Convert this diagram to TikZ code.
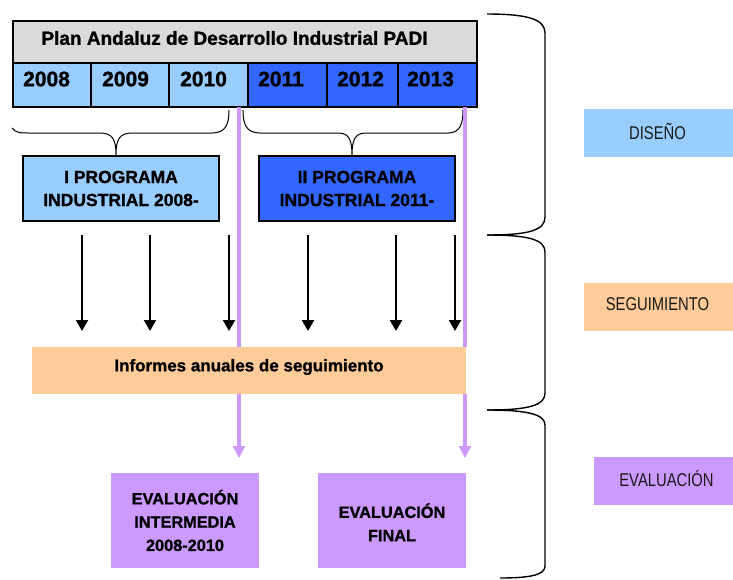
\documentclass[tikz,border=0pt]{standalone}
\usepackage{fontspec}
\setmainfont[BoldFeatures={FakeBold=1.2}]{Liberation Sans}
\newfontfamily\narrowfont[FakeStretch=0.8]{Liberation Sans}
\usetikzlibrary{arrows.meta}
\definecolor{lblue}{HTML}{99CCFF}
\definecolor{dblue}{HTML}{3366FF}
\definecolor{lorange}{HTML}{FFCC99}
\definecolor{lpurple}{HTML}{CC99FF}
\definecolor{lgray}{HTML}{DADADA}
\begin{document}
\begin{tikzpicture}[x=1pt,y=-1pt,
  box/.style={anchor=north west,inner sep=0pt,outer sep=0pt},
  cell/.style={box,draw=black,line width=1.5pt,minimum height=44pt},
  yeartxt/.style={anchor=west,inner sep=0pt,font=\fontsize{21}{24}\selectfont\bfseries},
  progbox/.style={box,draw=black,line width=2pt,minimum width=196pt,minimum height=65pt,align=center,
     font=\fontsize{17.5}{23}\selectfont\bfseries},
  evalbox/.style={box,fill=lpurple,minimum width=148pt,minimum height=95pt,align=center,
     font=\fontsize{16.3}{23.3}\selectfont\bfseries},
  labelbox/.style={box,minimum height=48pt},
  labeltxt/.style={inner sep=0pt,font=\narrowfont\fontsize{18.5}{22}\selectfont,text=black!90},
  blackarrow/.style={line width=2.2pt,-{Triangle[length=11pt,width=12pt]}},
  purpleline/.style={draw=lpurple,line width=4.5pt},
  purplearrow/.style={draw=lpurple,line width=4pt,-{Triangle[length=12pt,width=12pt]}},
  bracket/.style={draw=black,line width=1.4pt},
  smallbrace/.style={draw=black,line width=1pt}]
\useasboundingbox (0,0) rectangle (733,579);

% ---- table ----
\node[box,fill=lgray,minimum width=464pt,minimum height=42pt] (title) at (13,21) {};
\node[inner sep=0pt,font=\fontsize{19}{22}\selectfont\bfseries] (titletext) at (234.5,38) {Plan Andaluz de Desarrollo Industrial PADI};
\node[cell,fill=lblue,minimum width=78pt] (y1) at (13,63) {};
\node[cell,fill=lblue,minimum width=78pt] (y2) at (91,63) {};
\node[cell,fill=lblue,minimum width=79pt] (y3) at (169,63) {};
\node[cell,fill=dblue,minimum width=79pt] (y4) at (248,63) {};
\node[cell,fill=dblue,minimum width=71pt] (y5) at (327,63) {};
\node[cell,fill=dblue,minimum width=79pt] (y6) at (398,63) {};
\node[yeartxt] (t1) at (23,79) {2008};
\node[yeartxt] (t2) at (102,79) {2009};
\node[yeartxt] (t3) at (180,79) {2010};
\node[yeartxt] (t4) at (258,79) {2011};
\node[yeartxt] (t5) at (337,79) {2012};
\node[yeartxt] (t6) at (407,79) {2013};
\draw[line width=2.2pt] (title.north west) rectangle (y6.south east);

% ---- small braces ----
\draw[smallbrace] (12,128) .. controls (16,133) and (20,133) .. (30,133) -- (100,133)
  .. controls (113,133) and (116,140) .. (116,155)
  .. controls (116,140) and (119,133) .. (132,133) -- (212,133)
  .. controls (226,133) and (229,124) .. (229,110);
\draw[smallbrace] (243,110) .. controls (243,124) and (246,133) .. (260,133) -- (338,133)
  .. controls (349,133) and (352,140) .. (352,155)
  .. controls (352,140) and (355,133) .. (366,133) -- (448,133)
  .. controls (460,133) and (463,124) .. (463,110);

% ---- programme boxes ----
\node[progbox,fill=lblue] (p1) at (23,156) {I PROGRAMA\\INDUSTRIAL 2008-};
\node[progbox,fill=dblue] (p2) at (259,156) {II PROGRAMA\\INDUSTRIAL 2011-};

% ---- orange box ----
\node[box,fill=lorange,minimum width=434pt,minimum height=47pt] (inf) at (32,347) {};
\node[inner sep=0pt,font=\fontsize{17}{20}\selectfont\bfseries] (inftext) at (249,367) {Informes anuales de seguimiento};

% ---- purple lines ----
\coordinate (pa1) at (239,107);
\coordinate (pb1) at (239,347);
\coordinate (pa2) at (465,107);
\coordinate (pb2) at (465,347);
\draw[purpleline] (pa1) -- (pb1);
\draw[purpleline] (pa2) -- (pb2);

% ---- black arrows ----
\foreach \n/\x in {1/82,2/150,3/229,4/308,5/396,6/455}{
  \coordinate (as\n) at (\x,235);
  \coordinate (ae\n) at (\x,331);
  \draw[blackarrow] (as\n) -- (ae\n);
}

% ---- evaluation ----
\node[evalbox] (e1) at (111,473) {EVALUACIÓN\\INTERMEDIA\\2008-2010};
\node[evalbox] (e2) at (318,473) {\rule{0pt}{18pt}EVALUACIÓN\\FINAL};
\coordinate (ps1) at (239,394);
\coordinate (pe1) at (239,458);
\coordinate (ps2) at (465,394);
\coordinate (pe2) at (465,458);
\draw[purplearrow] (ps1) -- (pe1);
\draw[purplearrow] (ps2) -- (pe2);

% ---- right brackets ----
\draw[bracket] (487,14) .. controls (530,14) and (545,20) .. (545,33) -- (545,217)
  .. controls (545,230) and (530,235) .. (487,235);
\draw[bracket] (487,235) .. controls (530,235) and (545,240) .. (545,252) -- (545,393)
  .. controls (545,405) and (530,410) .. (487,410);
\draw[bracket] (487,410) .. controls (530,410) and (545,415) .. (545,425) -- (545,566)
  .. controls (545,575) and (530,578) .. (500,578);

% ---- labels ----
\node[labelbox,fill=lblue,minimum width=149pt] (dis) at (584,109) {};
\node[labeltxt] (distext) at (657.5,131) {DISEÑO};
\node[labelbox,fill=lorange,minimum width=149pt] (seg) at (584,283) {};
\node[labeltxt] (segtext) at (657.5,304) {SEGUIMIENTO};
\node[labelbox,fill=lpurple,minimum width=139pt] (eva) at (594,457) {};
\node[labeltxt] (evatext) at (666.5,479) {EVALUACIÓN};
\end{tikzpicture}
\end{document}
